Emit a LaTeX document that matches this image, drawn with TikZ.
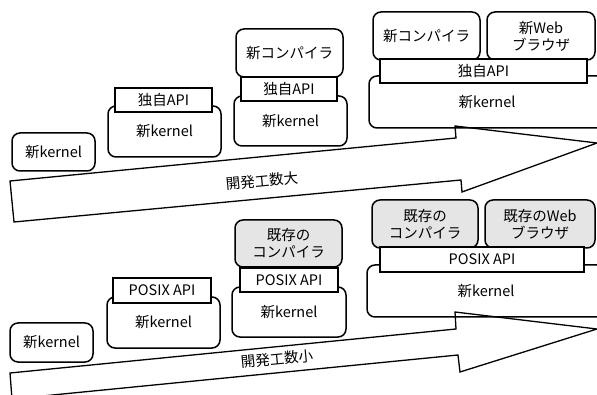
\documentclass[tikz,border=0pt]{standalone}
\usepackage{fontspec}
\setmainfont{Noto Sans CJK JP}
\begin{document}
\begin{tikzpicture}[x=1pt,y=-1pt,
  every node/.style={font=\fontsize{14.5}{17}\selectfont, inner sep=0pt},
  rbox/.style={draw, line width=1.5pt, rounded corners=8pt, fill=white, align=center},
  gbox/.style={rbox, fill=black!10},
  apibox/.style={draw, line width=1.5pt, fill=white},
  bigarrow/.style={draw, line width=1.3pt, line join=miter}]
\useasboundingbox (0,0) rectangle (597,395);
\clip (0,0) rectangle (597,395);
% ---------- top row ----------
\node[rbox, minimum width=83pt, minimum height=38pt] (tk1) at (53.5,152) {新kernel};
\node[rbox, minimum width=113pt, minimum height=51pt] (tk2) at (164.5,131.5) {新kernel};
\node[apibox, minimum width=97pt, minimum height=24pt] (ta2) at (163.5,100) {独自API};
\node[rbox, minimum width=113pt, minimum height=50pt] (tk3) at (290.5,121) {新kernel};
\node[rbox, minimum width=107pt, minimum height=48pt] (tc3) at (289.5,53) {新コンパイラ};
\node[apibox, minimum width=96pt, minimum height=24pt] (ta3) at (289,89) {独自API};
\node[rbox, minimum width=236pt, minimum height=52pt] (tk4) at (487,102) {新kernel};
\node[rbox, minimum width=107pt, minimum height=48pt] (tc4) at (426.5,36) {新コンパイラ};
\node[rbox, minimum width=108pt, minimum height=48pt] (tw4) at (541,36) {新Web\\ブラウザ};
\node[apibox, minimum width=207pt, minimum height=24pt] (ta4) at (483.5,71) {独自API};
% ---------- bottom row ----------
\node[rbox, minimum width=83pt, minimum height=39pt] (bk1) at (51.5,342.5) {新kernel};
\node[rbox, minimum width=113pt, minimum height=51pt] (bk2) at (163.5,322.5) {新kernel};
\node[apibox, minimum width=98pt, minimum height=25pt] (ba2) at (162,290.5) {POSIX API};
\node[rbox, minimum width=114pt, minimum height=50pt] (bk3) at (289,312) {新kernel};
\node[gbox, minimum width=107pt, minimum height=47pt] (bc3) at (288.5,243.5) {既存の\\コンパイラ};
\node[apibox, minimum width=98pt, minimum height=24pt] (ba3) at (289,280) {POSIX API};
\node[rbox, minimum width=238pt, minimum height=52pt] (bk4) at (486,291) {新kernel};
\node[gbox, minimum width=106pt, minimum height=48pt] (bc4) at (425,224) {既存の\\コンパイラ};
\node[gbox, minimum width=110pt, minimum height=48pt] (bw4) at (540,224) {既存のWeb\\ブラウザ};
\node[apibox, minimum width=204pt, minimum height=25pt] (ba4) at (482,259.5) {POSIX API};
% ---------- arrows ----------
\draw[bigarrow] (10,181) -- (456,138) -- (455,126) -- (597,143) -- (462,192) -- (461,180) -- (14,222) -- cycle;
\node[rotate=5.5] (tl) at (262,181) {開発工数大};
\draw[bigarrow] (10,373) -- (456,329) -- (455,312) -- (597,329) -- (460,372) -- (458,355) -- (12,399) -- cycle;
\node[rotate=5.5] (bl) at (277,359) {開発工数小};
\end{tikzpicture}
\end{document}
